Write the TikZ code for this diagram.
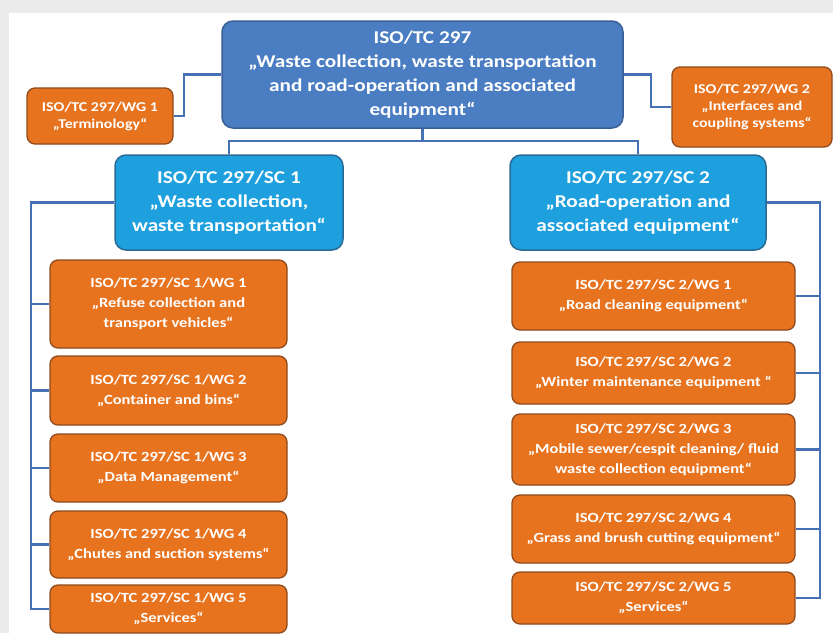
\documentclass[tikz,border=0pt]{standalone}
\usepackage{fontspec}
\setmainfont{Carlito}[FakeStretch=1.18]
\usepackage{tikz}
\usetikzlibrary{positioning}

\definecolor{tcblue}{HTML}{4A7DC1}
\definecolor{tcedge}{HTML}{3A5F96}
\definecolor{scblue}{HTML}{1EA0DE}
\definecolor{scedge}{HTML}{2A6A95}
\definecolor{wgorange}{HTML}{E8731F}
\definecolor{wgedge}{HTML}{8E4A1C}
\definecolor{linkblue}{HTML}{4672B5}

\begin{document}
\begin{tikzpicture}[x=1pt,y=-1pt,
  tcbox/.style={rectangle, draw=tcedge, line width=1.5pt, fill=tcblue, text=white, rounded corners=11pt, align=center, inner sep=0pt, font=\fontsize{18}{24}\selectfont\bfseries},
  scbox/.style={rectangle, draw=scedge, line width=1.5pt, fill=scblue, text=white, rounded corners=11pt, align=center, inner sep=0pt, font=\fontsize{18}{24}\selectfont\bfseries},
  wgbox/.style={rectangle, draw=wgedge, line width=1.3pt, fill=wgorange, text=white, rounded corners=8pt, align=center, inner sep=0pt, font=\fontsize{14}{20}\selectfont\bfseries},
  link/.style={draw=linkblue, line width=2.2pt}]

\useasboundingbox (0,0) rectangle (833,633);
\fill[black!8] (0,0) rectangle (833,633);
\fill[white] (9,13) rectangle (833,633);

% top committee and its working groups
\node[tcbox, minimum width=401pt, minimum height=107pt] (tc) at (422.5,74.5) {ISO/TC 297\\„Waste collection, waste transportation\\and road-operation and associated\\equipment“};
\node[wgbox, minimum width=146pt, minimum height=56pt, font=\fontsize{13.5}{17}\selectfont\bfseries] (wga) at (100,116) {ISO/TC 297/WG 1\\„Terminology“};
\node[wgbox, minimum width=160pt, minimum height=80pt, font=\fontsize{13.5}{17}\selectfont\bfseries] (wgb) at (752,107) {ISO/TC 297/WG 2\\„Interfaces and\\coupling systems“};

% subcommittees
\node[scbox, minimum width=228pt, minimum height=95pt] (sca) at (229,202.5) {ISO/TC 297/SC 1\\„Waste collection,\\waste transportation“};
\node[scbox, minimum width=256pt, minimum height=95pt] (scb) at (638,202.5) {ISO/TC 297/SC 2\\„Road-operation and\\associated equipment“};

% SC 1 working groups
\node[wgbox, minimum width=237pt, minimum height=88pt] (sa1) at (168.5,304) {ISO/TC 297/SC 1/WG 1\\„Refuse collection and\\transport vehicles“};
\node[wgbox, minimum width=237pt, minimum height=69pt] (sa2) at (168.5,390.5) {ISO/TC 297/SC 1/WG 2\\„Container and bins“};
\node[wgbox, minimum width=237pt, minimum height=68pt] (sa3) at (168.5,468) {ISO/TC 297/SC 1/WG 3\\„Data Management“};
\node[wgbox, minimum width=237pt, minimum height=67pt] (sa4) at (168.5,544.5) {ISO/TC 297/SC 1/WG 4\\„Chutes and suction systems“};
\node[wgbox, minimum width=237pt, minimum height=48pt] (sa5) at (168.5,609) {ISO/TC 297/SC 1/WG 5\\„Services“};

% SC 2 working groups
\node[wgbox, minimum width=283pt, minimum height=68pt] (sb1) at (653.5,296) {ISO/TC 297/SC 2/WG 1\\„Road cleaning equipment“};
\node[wgbox, minimum width=283pt, minimum height=62pt] (sb2) at (653.5,373) {ISO/TC 297/SC 2/WG 2\\„Winter maintenance equipment “};
\node[wgbox, minimum width=283pt, minimum height=71pt] (sb3) at (653.5,449.5) {ISO/TC 297/SC 2/WG 3\\„Mobile sewer/cespit cleaning/ fluid\\waste collection equipment“};
\node[wgbox, minimum width=283pt, minimum height=68pt] (sb4) at (653.5,529) {ISO/TC 297/SC 2/WG 4\\„Grass and brush cutting equipment“};
\node[wgbox, minimum width=283pt, minimum height=52pt] (sb5) at (653.5,598) {ISO/TC 297/SC 2/WG 5\\„Services“};

% connectors
\path[link] (tc.west) -- ++(-37,0) |- (wga.east);
\path[link] (tc.east) -- ++(27,0) |- (wgb.west);
\path[link] (tc.south) -- ++(0,12) coordinate (bus);
\path[link] (sca.north) |- (bus) -| (scb.north);
\path[link] (sca.west) -- ++(-83,0) coordinate (lspine) |- (sa5.west);
\path[link] (scb.east) -- ++(53,0) coordinate (rspine) |- (sb5.east);
\foreach \k in {1,...,4} {
  \path[link] (lspine |- sa\k.west) -- (sa\k.west);
  \path[link] (rspine |- sb\k.east) -- (sb\k.east);
}
\end{tikzpicture}
\end{document}
